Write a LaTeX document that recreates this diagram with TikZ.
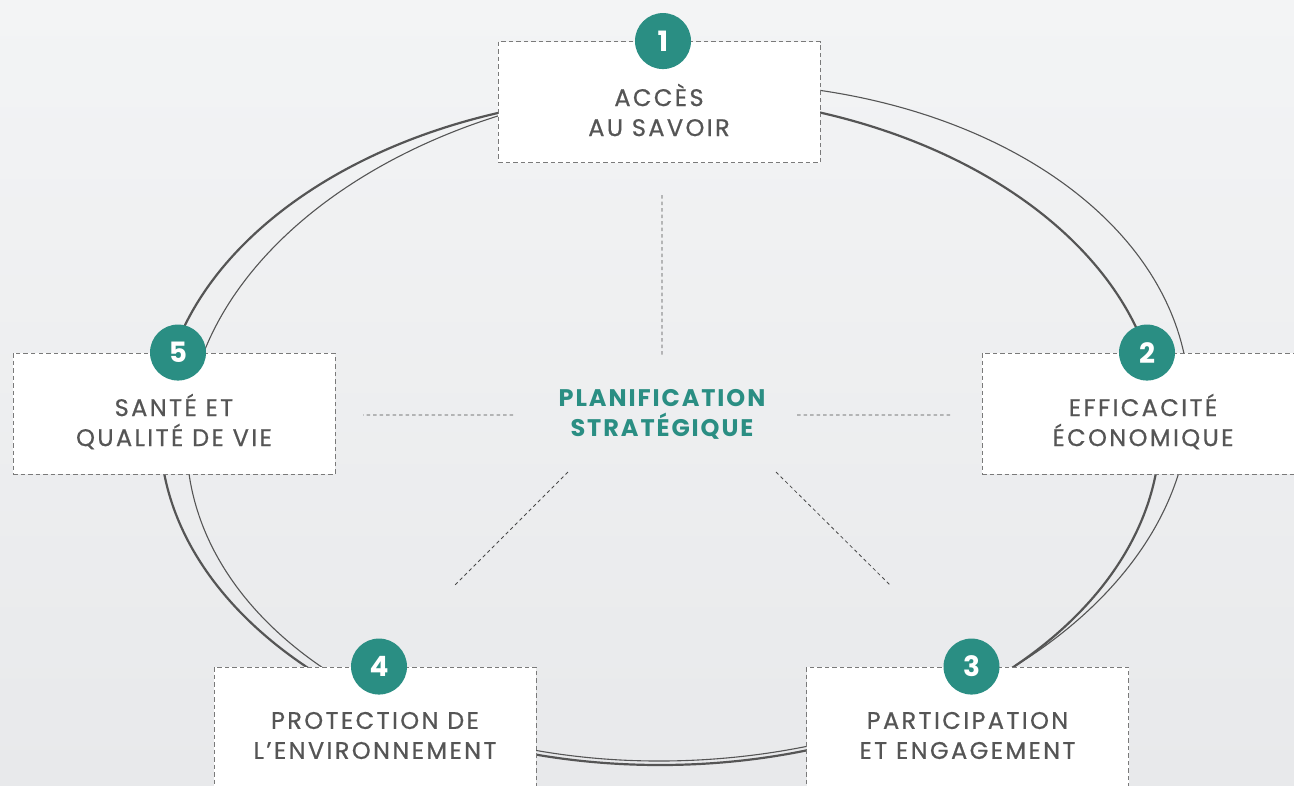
\documentclass[tikz,border=0pt]{standalone}
\usepackage{fontspec}
\setmainfont{Poppins}
\newfontfamily\labelfont[LetterSpace=10,FakeBold=0.7]{Poppins}
\newfontfamily\titlefont[LetterSpace=8]{Poppins}
\usetikzlibrary{positioning}

\definecolor{planteal}{HTML}{2A8E83}
\definecolor{labelgray}{HTML}{555555}
\definecolor{boxgray}{HTML}{7A7A7A}
\definecolor{spokegray}{HTML}{4A4A4A}
\definecolor{ringgray}{HTML}{555555}
\definecolor{bgtop}{HTML}{F3F4F5}
\definecolor{bgbot}{HTML}{E8E9EB}

\begin{document}
\begin{tikzpicture}[x=1pt,y=-1pt,
   box/.style={draw=boxgray, fill=white, line width=0.9pt, dash pattern=on 4.5pt off 3pt,
               minimum width=322pt, minimum height=121pt, inner sep=0pt},
   num/.style={circle, fill=planteal, text=white, minimum size=56pt, inner sep=0pt,
               font=\fontsize{28}{28}\selectfont\bfseries},
   lbl/.style={align=center, text=labelgray, font=\labelfont\fontsize{24}{30}\selectfont},
   spoke/.style={draw=spokegray, line width=0.8pt, dash pattern=on 3.5pt off 3pt},
   ring/.style={draw=ringgray}]
   \useasboundingbox (0,0) rectangle (1294,785);
   \fill[top color=bgtop, bottom color=bgbot] (0,0) rectangle (1294,785);

   % the two rings
   \draw[ring, line width=2.2pt] (660,430) ellipse [x radius=500, y radius=335];
   \draw[ring, line width=1.1pt, rotate around={4:(688,422)}] (688,422) ellipse [x radius=502, y radius=338];

   % centre
   \node[text=planteal, align=center, font=\titlefont\bfseries\fontsize{24}{30}\selectfont] (plan) at (662,414) {PLANIFICATION\\STRAT\'EGIQUE};
   \coordinate (s1a) at (662,195); \coordinate (s1b) at (662,356);
   \coordinate (s2a) at (797,415); \coordinate (s2b) at (952,415);
   \coordinate (s3a) at (776,472); \coordinate (s3b) at (890,585);
   \coordinate (s4a) at (568,472); \coordinate (s4b) at (455,585);
   \coordinate (s5a) at (513,415); \coordinate (s5b) at (363,415);
   \path[spoke] (s1a) -- (s1b) (s2a) -- (s2b) (s3a) -- (s3b) (s4a) -- (s4b) (s5a) -- (s5b);

   % boxes
   \node[box] (acces) at (659,102) {};
   \node[box] (effic) at (1143,413.5) {};
   \node[box] (parti) at (967.5,727.5) {};
   \node[box] (prote) at (375,727.5) {};
   \node[box] (sante) at (174,413.5) {};

   \node[lbl] (acces-t) at ([yshift=-8pt]acces.center) {ACC\`ES\\AU SAVOIR};
   \node[lbl] (effic-t) at ([yshift=-8pt]effic.center) {EFFICACIT\'E\\\'ECONOMIQUE};
   \node[lbl] (parti-t) at ([yshift=-8pt]parti.center) {PARTICIPATION\\ET ENGAGEMENT};
   \node[lbl] (prote-t) at ([yshift=-8pt]prote.center) {PROTECTION DE\\L’ENVIRONNEMENT};
   \node[lbl] (sante-t) at ([yshift=-8pt]sante.center) {SANT\'E ET\\QUALIT\'E DE VIE};

   % numbers
   \node[num] (n1) at ([xshift=4pt]acces.north) {1};
   \node[num] (n2) at ([xshift=4pt]effic.north) {2};
   \node[num] (n3) at ([xshift=4pt]parti.north) {3};
   \node[num] (n4) at ([xshift=4pt]prote.north) {4};
   \node[num] (n5) at ([xshift=4pt]sante.north) {5};
\end{tikzpicture}
\end{document}
